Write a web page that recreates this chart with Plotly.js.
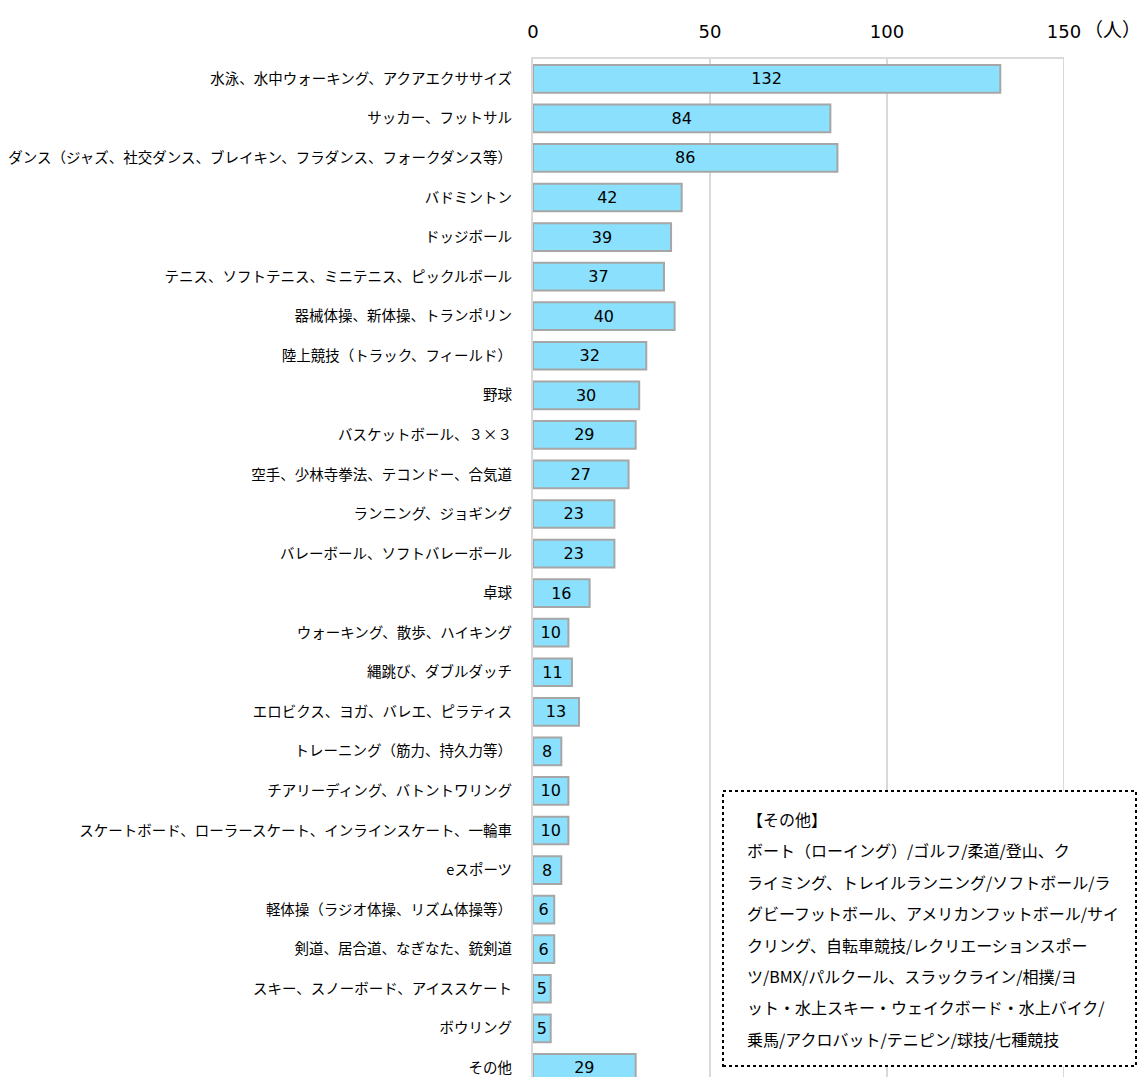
<!DOCTYPE html>
<html>
<head>
<meta charset="utf-8">
<script src="https://cdn.plot.ly/plotly-3.0.1.min.js"></script>
<style>
html,body{margin:0;padding:0;background:#fff;}
#chart{width:1141px;height:1077px;}
</style>
</head>
<body>
<div id="chart"></div>
<script>
const categories = [
  "水泳、水中ウォーキング、アクアエクササイズ",
  "サッカー、フットサル",
  "ダンス（ジャズ、社交ダンス、ブレイキン、フラダンス、フォークダンス等）",
  "バドミントン",
  "ドッジボール",
  "テニス、ソフトテニス、ミニテニス、ピックルボール",
  "器械体操、新体操、トランポリン",
  "陸上競技（トラック、フィールド）",
  "野球",
  "バスケットボール、３×３",
  "空手、少林寺拳法、テコンドー、合気道",
  "ランニング、ジョギング",
  "バレーボール、ソフトバレーボール",
  "卓球",
  "ウォーキング、散歩、ハイキング",
  "縄跳び、ダブルダッチ",
  "エロビクス、ヨガ、バレエ、ピラティス",
  "トレーニング（筋力、持久力等）",
  "チアリーディング、バトントワリング",
  "スケートボード、ローラースケート、インラインスケート、一輪車",
  "eスポーツ",
  "軽体操（ラジオ体操、リズム体操等）",
  "剣道、居合道、なぎなた、銃剣道",
  "スキー、スノーボード、アイススケート",
  "ボウリング",
  "その他"
];
const values = [132, 84, 86, 42, 39, 37, 40, 32, 30, 29, 27, 23, 23, 16, 10, 11, 13, 8, 10, 10, 8, 6, 6, 5, 5, 29];
const tickVals = [0, 50, 100, 150];
const tickLabels = ["0", "50", "100", "150"];
const unitLabel = "（人）";
const noteLines = [
  "【その他】",
  "ボート（ローイング）/ゴルフ/柔道/登山、ク",
  "ライミング、トレイルランニング/ソフトボール/ラ",
  "グビーフットボール、アメリカンフットボール/サイ",
  "クリング、自転車競技/レクリエーションスポー",
  "ツ/BMX/パルクール、スラックライン/相撲/ヨ",
  "ット・水上スキー・ウェイクボード・水上バイク/",
  "乗馬/アクロバット/テニピン/球技/七種競技"
];

const FONT = "'Noto Sans CJK JP', 'Noto Sans', sans-serif";
const NUMFONT = "'DejaVu Sans', 'Noto Sans CJK JP', sans-serif";

const trace = {
  type: 'bar',
  orientation: 'h',
  y: categories,
  x: values,
  text: values.map(String),
  textposition: 'inside',
  insidetextanchor: 'middle',
  constraintext: 'none',
  textangle: 0,
  textfont: {family: NUMFONT, size: 16, color: '#000'},
  marker: {color: '#8ae0fd', line: {color: '#a6a6a6', width: 2}},
  width: 0.7,
  hoverinfo: 'none',
  cliponaxis: false
};

// plot box in pixels
const PL = 533, PR = 1064, PT = 59, PB = 1077;
const px2x = v => (v - PL) / (PR - PL);
const px2y = v => (PB - v) / (PB - PT);

const noteAnnotations = noteLines.map((line, i) => ({
  xref: 'paper', yref: 'paper',
  x: px2x(745), y: px2y(819 + i * 31.4),
  xanchor: 'left', yanchor: 'middle', align: 'left', showarrow: false,
  text: line,
  font: {family: FONT, size: 16, color: '#000'}
}));

const layout = {
  width: 1141,
  height: 1077,
  margin: {l: PL, r: 1141 - PR, t: PT, b: 0, pad: 0},
  paper_bgcolor: '#fff',
  plot_bgcolor: '#fff',
  font: {family: FONT, color: '#000'},
  showlegend: false,
  xaxis: {
    side: 'top',
    range: [0, 150],
    tickvals: tickVals,
    ticktext: tickLabels,
    tickfont: {family: NUMFONT, size: 18, color: '#000'},
    showgrid: true,
    gridcolor: '#d9d9d9',
    gridwidth: 2,
    zeroline: false,
    showline: true,
    linecolor: '#d9d9d9',
    linewidth: 2,
    ticks: '',
    ticklabelstandoff: 12,
    fixedrange: true
  },
  yaxis: {
    type: 'category',
    range: [25.23, -0.5],
    tickfont: {family: FONT, size: 14.5, color: '#000'},
    showgrid: false,
    zeroline: false,
    showline: true,
    linecolor: '#d9d9d9',
    linewidth: 2,
    ticks: '',
    ticklabelstandoff: 16,
    fixedrange: true
  },
  shapes: [
    {type: 'line', xref: 'x', yref: 'paper', x0: 150, x1: 150, y0: 0, y1: 1,
     line: {color: '#d9d9d9', width: 2}},
    {type: 'rect', xref: 'paper', yref: 'paper',
     x0: px2x(723), x1: px2x(1136),
     y0: px2y(1066), y1: px2y(791),
     fillcolor: '#fff', line: {color: '#000', width: 2, dash: 'dot'}}
  ],
  annotations: [
    {xref: 'x', yref: 'paper', x: 150, y: 1, xanchor: 'left', yanchor: 'bottom',
     xshift: 18, yshift: 15, text: unitLabel, showarrow: false,
     font: {family: FONT, size: 19, color: '#000'}}
  ].concat(noteAnnotations)
};

Plotly.newPlot('chart', [trace], layout, {displayModeBar: false, staticPlot: true});
</script>
</body>
</html>
